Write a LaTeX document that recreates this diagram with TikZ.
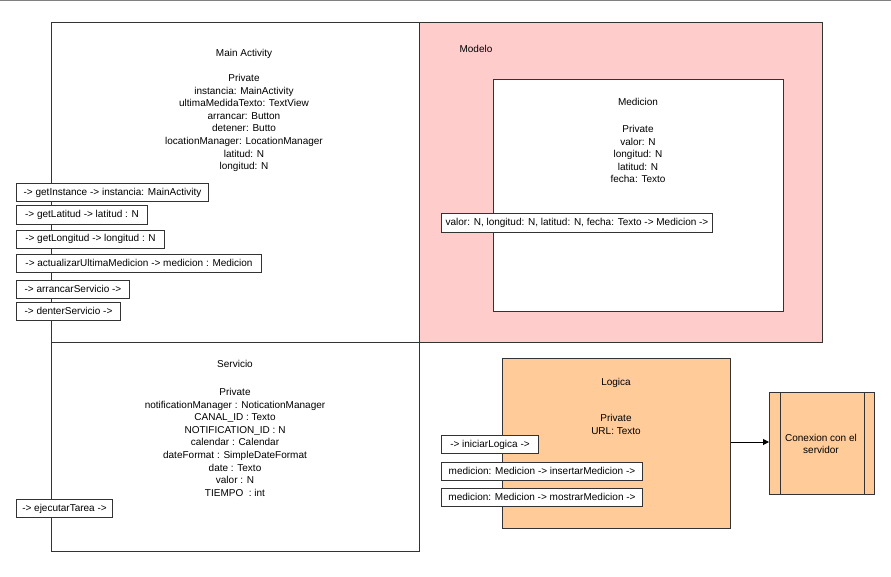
\documentclass[tikz,border=0pt]{standalone}
\usepackage{fontspec}
\setmainfont{Liberation Sans}
\usetikzlibrary{arrows.meta}
\definecolor{rosa}{HTML}{FFCCCC}
\definecolor{naranja}{HTML}{FFCC99}
\definecolor{borde}{HTML}{333333}
\tikzset{
	caja/.style={draw=borde, line width=0.75pt, inner sep=0pt, anchor=north west},
	metodo/.style={draw=borde, fill=white, line width=0.75pt, inner sep=0pt,
		anchor=west, minimum height=13.5pt},
	texto/.style={inner sep=0pt, align=center, font=\fontsize{7.5}{9.45}\selectfont}
}
\newcommand{\metodo}[5] % name, x in px, y in px, width in px, text
{
	\node[metodo, minimum width=0.75pt*#4] (#1) at (#2,#3) {\fontsize{7.5}{9}\selectfont #5};
}

\begin{document}
\begin{tikzpicture}[x=0.75pt, y=-0.75pt]
	% 891px x 577px, y downwards
	\useasboundingbox (0,0) rectangle (891,577);
	\draw[gray, line width=1.5pt] (0,0.5) -- (891,0.5);
	
	% vista
	\node[caja, minimum width=276pt, minimum height=240pt] (main) at (51,22) {};
	\node[caja, minimum width=276pt, minimum height=156.75pt] (servicio) at (51,342) {};
	
	% modelo
	\node[caja, fill=rosa, minimum width=302.25pt, minimum height=240pt] (modelo) at (419,22) {};
	\node[caja, fill=white, minimum width=217.5pt, minimum height=174pt] (medicion) at (493,79) {};
	
	% logica
	\node[caja, fill=naranja, minimum width=171pt, minimum height=127.5pt] (logica) at (502,358) {};
	\node[caja, fill=naranja, minimum width=78.75pt, minimum height=76.5pt] (conexion) at (769,392) {};
	\draw[borde, line width=0.75pt] ([xshift=8.25pt]conexion.north west) -- ([xshift=8.25pt]conexion.south west);
	\draw[borde, line width=0.75pt] ([xshift=-8.25pt]conexion.north east) -- ([xshift=-8.25pt]conexion.south east);
	\draw[-{Triangle[length=4.5pt, width=4.5pt]}, line width=0.75pt] (logica.east |- 0,442) -- (conexion.west |- 0,442);
	
	% textos
	\node[texto] (mainTit) at (244,54) {Main Activity};
	\node[texto, anchor=north] (mainAtr) at (244,74) {Private\\ instancia: MainActivity\\ ultimaMedidaTexto: TextView\\
		arrancar: Button\\ detener: Butto\\ locationManager: LocationManager\\ latitud: N\\ longitud: N};
	\node[texto] (servTit) at (235,364) {Servicio};
	\node[texto, anchor=north] (servAtr) at (235,388) {Private\\ notificationManager : NoticationManager\\ CANAL\_ID : Texto\\
		NOTIFICATION\_ID : N\\ calendar : Calendar\\ dateFormat : SimpleDateFormat\\ date : Texto\\ valor : N\\ TIEMPO\ \ : int};
	\node[texto] (modTit) at (476,49) {Modelo};
	\node[texto] (medTit) at (638,102) {Medicion};
	\node[texto, anchor=north] (medAtr) at (638,125) {Private\\ valor: N\\ longitud: N\\ latitud: N\\ fecha: Texto};
	\node[texto] (logTit) at (616,383) {Logica};
	\node[texto, anchor=north] (logAtr) at (616,414) {Private\\ URL: Texto};
	\node[texto] (conTxt) at (821,444) {Conexion con el\\ servidor};
	
	% metodos
	\metodo{getInstance}{16}{193}{192}{-> getInstance -> instancia: MainActivity};
	\metodo{getLatitud}{16}{215}{131}{-> getLatitud -> latitud : N};
	\metodo{getLongitud}{16}{239}{148}{-> getLongitud -> longitud : N};
	\metodo{actualizar}{16}{263}{245}{-> actualizarUltimaMedicion -> medicion : Medicion};
	\metodo{arrancar}{16}{289}{113}{-> arrancarServicio ->};
	\metodo{denter}{16}{311}{104}{-> denterServicio ->};
	\metodo{ejecutar}{16}{508.5}{96}{-> ejecutarTarea ->};
	\metodo{constructor}{441}{223}{271}{valor: N, longitud: N, latitud: N, fecha: Texto -> Medicion ->};
	\metodo{iniciar}{441}{444.5}{97}{-> iniciarLogica ->};
	\metodo{insertar}{441}{471}{201}{medicion: Medicion -> insertarMedicion ->};
	\metodo{mostrar}{441}{497}{201}{medicion: Medicion -> mostrarMedicion ->};
	
\end{tikzpicture}
\end{document}
